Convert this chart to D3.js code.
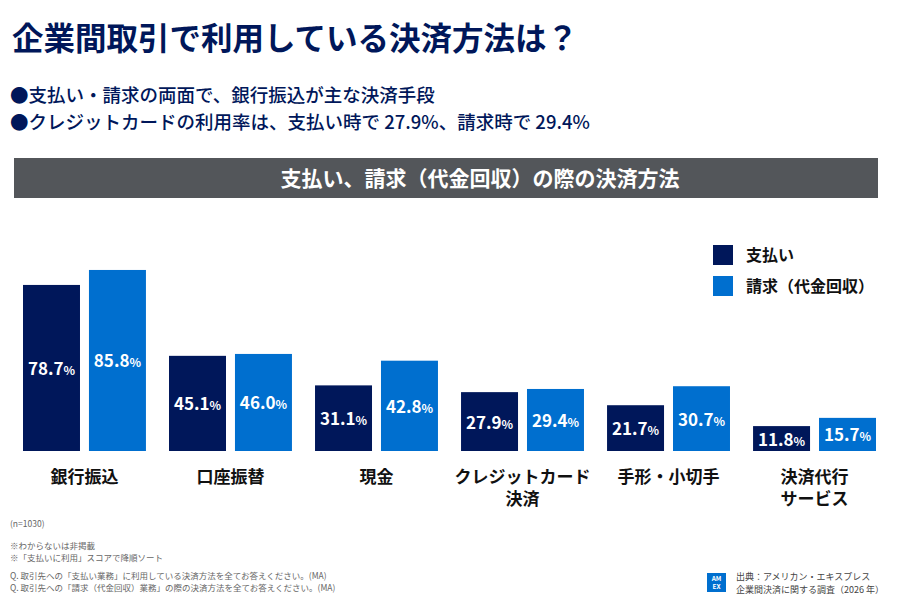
<!DOCTYPE html>
<html><head><meta charset="utf-8">
<script src="https://cdn.jsdelivr.net/npm/d3@7"></script>
<style>body{margin:0;background:#fff}text{font-family:"Noto Sans CJK JP","Noto Sans",sans-serif}</style>
</head><body><svg id="chart" width="901" height="601"></svg>
<script>
const categories = [["銀行振込"], ["口座振替"], ["現金"], ["クレジットカード", "決済"], ["手形・小切手"], ["決済代行", "サービス"]];
const payValues = [78.7, 45.1, 31.1, 27.9, 21.7, 11.8];
const billValues = [85.8, 46.0, 42.8, 29.4, 30.7, 15.7];
const seriesNames = ["支払い", "請求（代金回収）"];
const colors = ["#00175a", "#006fcf"];

const svg = d3.select("#chart");
const navy = "#00175a";

svg.append("text").attr("x", 12).attr("y", 50).attr("font-size", 31.5).attr("font-weight", 700)
    .attr("fill", navy).text("企業間取引で利用している決済方法は？");
const bullets = ["●支払い・請求の両面で、銀行振込が主な決済手段",
    "●クレジットカードの利用率は、支払い時で 27.9%、請求時で 29.4%"];
bullets.forEach((t, i) => svg.append("text").attr("x", 10).attr("y", 102 + i * 27)
    .attr("font-size", 18.5).attr("font-weight", 500).attr("fill", navy).text(t));

svg.append("rect").attr("x", 14).attr("y", 158).attr("width", 864).attr("height", 40).attr("fill", "#53565a");
svg.append("text").attr("x", 480).attr("y", 186).attr("text-anchor", "middle").attr("font-size", 21)
    .attr("font-weight", 700).attr("fill", "#fff").text("支払い、請求（代金回収）の際の決済方法");

// scales
const x = d3.scaleBand().domain(d3.range(categories.length)).range([23, 876]).paddingInner(0.158).paddingOuter(0);
const sub = d3.scaleBand().domain([0, 1]).range([0, x.bandwidth()]).paddingInner(0.136);
const y = d3.scaleLinear().domain([0, 100]).range([451, 240]);

const g = svg.append("g");
[payValues, billValues].forEach((vals, s) => {
    vals.forEach((v, i) => {
        const bx = x(i) + sub(s);
        g.append("rect").attr("x", bx).attr("y", y(v)).attr("width", sub.bandwidth())
            .attr("height", y(0) - y(v)).attr("fill", colors[s]);
        const t = g.append("text").attr("x", bx + sub.bandwidth() / 2).attr("y", (y(v) + y(0)) / 2 + 7)
            .attr("text-anchor", "middle").attr("fill", "#fff").attr("font-weight", 700).attr("font-size", 17);
        t.append("tspan").text(v.toFixed(1));
        t.append("tspan").attr("font-size", 12).text("%");
    });
});

categories.forEach((lines, i) => {
    lines.forEach((l, j) => svg.append("text").attr("x", x(i) + x.bandwidth() / 2).attr("y", 483 + j * 22)
        .attr("text-anchor", "middle").attr("font-size", 17).attr("font-weight", 700).attr("fill", "#111").text(l));
});

// legend
seriesNames.forEach((n, i) => {
    svg.append("rect").attr("x", 713).attr("y", 245 + i * 31).attr("width", 20).attr("height", 20).attr("fill", colors[i]);
    svg.append("text").attr("x", 746).attr("y", 261 + i * 31).attr("font-size", 16).attr("font-weight", 700)
        .attr("fill", "#111").text(n);
});

// notes
const notes = [[527, "(n=1030)"], [549, "※わからないは非掲載"], [561, "※「支払いに利用」スコアで降順ソート"],
    [579, "Q. 取引先への「支払い業務」に利用している決済方法を全てお答えください。(MA)"],
    [591, "Q. 取引先への「請求（代金回収）業務」の際の決済方法を全てお答えください。(MA)"]];
notes.forEach(([yy, t]) => svg.append("text").attr("x", 10).attr("y", yy).attr("font-size", 8.5)
    .attr("fill", "#666").text(t));

svg.append("rect").attr("x", 707).attr("y", 573).attr("width", 19).attr("height", 19).attr("fill", "#006fcf");
svg.append("text").attr("x", 716.5).attr("y", 581).attr("text-anchor", "middle").attr("font-size", 6.5)
    .attr("font-weight", 700).attr("fill", "#fff").text("AM");
svg.append("text").attr("x", 716.5).attr("y", 589).attr("text-anchor", "middle").attr("font-size", 6.5)
    .attr("font-weight", 700).attr("fill", "#fff").text("EX");
svg.append("text").attr("x", 736).attr("y", 580).attr("font-size", 9).attr("fill", "#444").text("出典：アメリカン・エキスプレス");
svg.append("text").attr("x", 736).attr("y", 593).attr("font-size", 9).attr("fill", "#444").text("企業間決済に関する調査（2026 年）");
</script></body></html>
